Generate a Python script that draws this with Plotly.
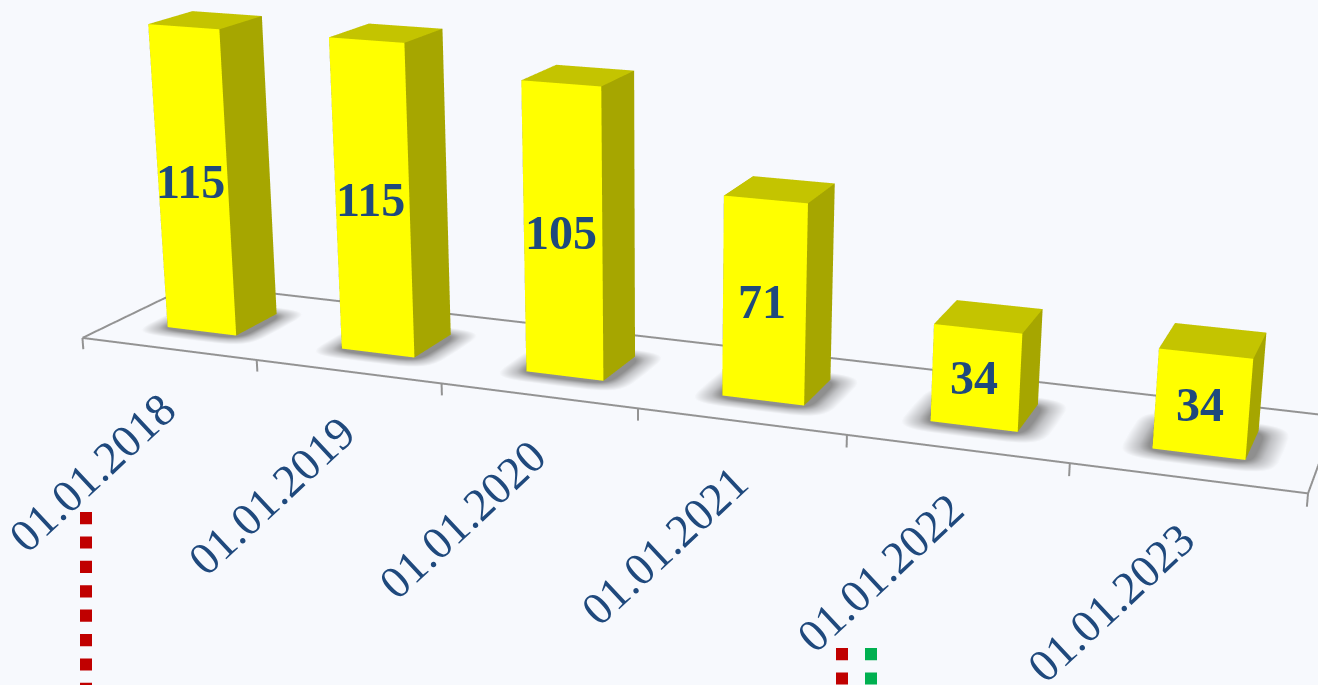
import numpy as np
import plotly.graph_objects as go

dates = ['01.01.2018', '01.01.2019', '01.01.2020', '01.01.2021', '01.01.2022', '01.01.2023']
values = [115, 115, 105, 71, 34, 34]

# Plotly's lens is fixed at 45 degrees of the plot height, so the figure is made
# tall for a long lens and the page is moved up to bring its middle near the window's
PAGE_W, PAGE_H = 1318, 2000
PAGE_SHIFT = 658
BG = '#F7F9FD'
NAVY = '#1F497D'
GREY = '#939393'

# bar footprint inside a category, depth of floor, value scale (world units)
BAR_X, BAR_W = 0.2981, 0.4007
BAR_Y0, BAR_Y1 = 0.3138, 0.7186
FLOOR_D = 1.0431
Z_PER_VALUE = 0.0135
Z_MIN, Z_MAX = -5, 120

# camera in world units, fitted against the picture
eye_w = np.array([6.8825, -9.7339, 3.6091])
yaw, pitch = -0.3703, 0.3042
look = np.array([np.cos(pitch) * np.sin(yaw), np.cos(pitch) * np.cos(yaw), -np.sin(pitch)])

n = len(dates)
box_mid = np.array([n / 2, FLOOR_D / 2, (Z_MIN + Z_MAX) / 2 * Z_PER_VALUE])
eye_s = (eye_w - box_mid) / n
center_s = eye_s + 1.5 * look

fig = go.Figure()

# floor shadows: rounded rings going from dark to the background colour
rings = [(0.03, 0.02, '#8F8F8F'), (0.07, 0.06, '#C0C1C4'), (0.14, 0.13, BG)]
angles = np.linspace(0, 2 * np.pi, 32, endpoint=False)
for i in range(n):
    cx, cy = i + BAR_X + BAR_W / 2, (BAR_Y0 + BAR_Y1) / 2
    sx, sy, sc = [cx], [cy], [rings[0][2]]
    for ex, ey, col in rings:
        sx += list(cx + (BAR_W / 2 + ex) * np.sign(np.cos(angles)) * np.abs(np.cos(angles)) ** 0.4)
        sy += list(cy + ((BAR_Y1 - BAR_Y0) / 2 + ey) * np.sign(np.sin(angles)) * np.abs(np.sin(angles)) ** 0.4)
        sc += [col] * 32
    ti, tj, tk = [], [], []
    for a in range(32):
        b = (a + 1) % 32
        ti.append(0)
        tj.append(1 + a)
        tk.append(1 + b)
        for r in range(2):
            p, q = 1 + r * 32, 1 + (r + 1) * 32
            ti += [p + a, p + b]
            tj += [p + b, q + b]
            tk += [q + a, q + a]
    fig.add_trace(go.Mesh3d(x=sx, y=sy, z=[-0.6] * len(sx), i=ti, j=tj, k=tk, vertexcolor=sc,
                            lighting=dict(ambient=1, diffuse=0, specular=0, fresnel=0),
                            hoverinfo='skip', showscale=False))

# floor outline and tick marks
lx, ly, lz = [], [], []
for (xa, ya), (xb, yb) in [((0, 0), (n, 0)), ((n, 0), (n, FLOOR_D)), ((n, FLOOR_D), (0, FLOOR_D)), ((0, FLOOR_D), (0, 0))]:
    lx += [xa, xb, None]
    ly += [ya, yb, None]
    lz += [0, 0, None]
for i in range(n + 1):
    lx += [i, i, None]
    ly += [0, 0, None]
    lz += [0, -4.4, None]
fig.add_trace(go.Scatter3d(x=lx, y=ly, z=lz, mode='lines', line=dict(color=GREY, width=4),
                           hoverinfo='skip', showlegend=False))

# bars
bx, by, bz, ti, tj, tk, colors = [], [], [], [], [], [], []
FRONT, SIDE, TOP = '#FFFF00', '#A6A600', '#C4C400'
for i, v in enumerate(values):
    x0, x1 = i + BAR_X, i + BAR_X + BAR_W
    s = len(bx)
    bx += [x0, x1, x1, x0, x0, x1, x1, x0]
    by += [BAR_Y0, BAR_Y0, BAR_Y1, BAR_Y1, BAR_Y0, BAR_Y0, BAR_Y1, BAR_Y1]
    bz += [0, 0, 0, 0, v, v, v, v]
    faces = [((0, 1, 5, 4), FRONT), ((1, 2, 6, 5), SIDE), ((4, 5, 6, 7), TOP), ((3, 0, 4, 7), SIDE), ((2, 3, 7, 6), SIDE)]
    for (a, b, c, d), col in faces:
        ti += [s + a, s + a]
        tj += [s + b, s + c]
        tk += [s + c, s + d]
        colors += [col, col]
fig.add_trace(go.Mesh3d(x=bx, y=by, z=bz, i=ti, j=tj, k=tk, facecolor=colors, flatshading=True,
                        lighting=dict(ambient=1, diffuse=0, specular=0, fresnel=0),
                        hoverinfo='skip', showscale=False))

# value labels on the front faces, date labels under the categories
labels = []
for i, v in enumerate(values):
    labels.append(dict(x=i + BAR_X + BAR_W / 2, y=BAR_Y0, z=v / 2, text=str(v), showarrow=False,
                       xshift=-2,
                       font=dict(family='Liberation Serif', size=48, color=NAVY, weight='bold')))
    labels.append(dict(x=i + 0.5, y=0, z=0, text=dates[i], showarrow=False, textangle=-43,
                       xshift=-76, yshift=-124,
                       font=dict(family='Liberation Serif', size=46, color=NAVY)))

no_axis = dict(visible=False)
fig.update_layout(
    width=PAGE_W, height=PAGE_H,
    margin=dict(l=0, r=0, t=0, b=0),
    paper_bgcolor=BG,
    showlegend=False,
    scene=dict(
        domain=dict(x=[0, 1], y=[0, 1]),
        xaxis=dict(no_axis, range=[0, n]),
        yaxis=dict(no_axis, range=[0, FLOOR_D]),
        zaxis=dict(no_axis, range=[Z_MIN, Z_MAX]),
        aspectmode='manual',
        aspectratio=dict(x=1, y=FLOOR_D / n, z=(Z_MAX - Z_MIN) * Z_PER_VALUE / n),
        camera=dict(eye=dict(x=eye_s[0], y=eye_s[1], z=eye_s[2]),
                    center=dict(x=center_s[0], y=center_s[1], z=center_s[2]),
                    up=dict(x=0, y=0, z=1)),
        annotations=labels,
    ),
)

# dotted slide connectors running off the bottom of the picture
for px, top, col in [(86, 512, '#C00000'), (842, 648, '#C00000'), (871, 648, '#00B050')]:
    fig.add_shape(type='line', xref='paper', yref='paper',
                  x0=px / PAGE_W, x1=px / PAGE_W,
                  y0=1 - (top + PAGE_SHIFT) / PAGE_H, y1=1 - (700 + PAGE_SHIFT) / PAGE_H,
                  line=dict(color=col, width=12, dash='12.2px,12.2px'))

fig.write_html('out.html', config=dict(displayModeBar=False),
               post_script="document.body.style.margin='-%dpx 0 0 0';document.body.style.overflow='hidden';document.body.style.background='%s';" % (PAGE_SHIFT, BG))
